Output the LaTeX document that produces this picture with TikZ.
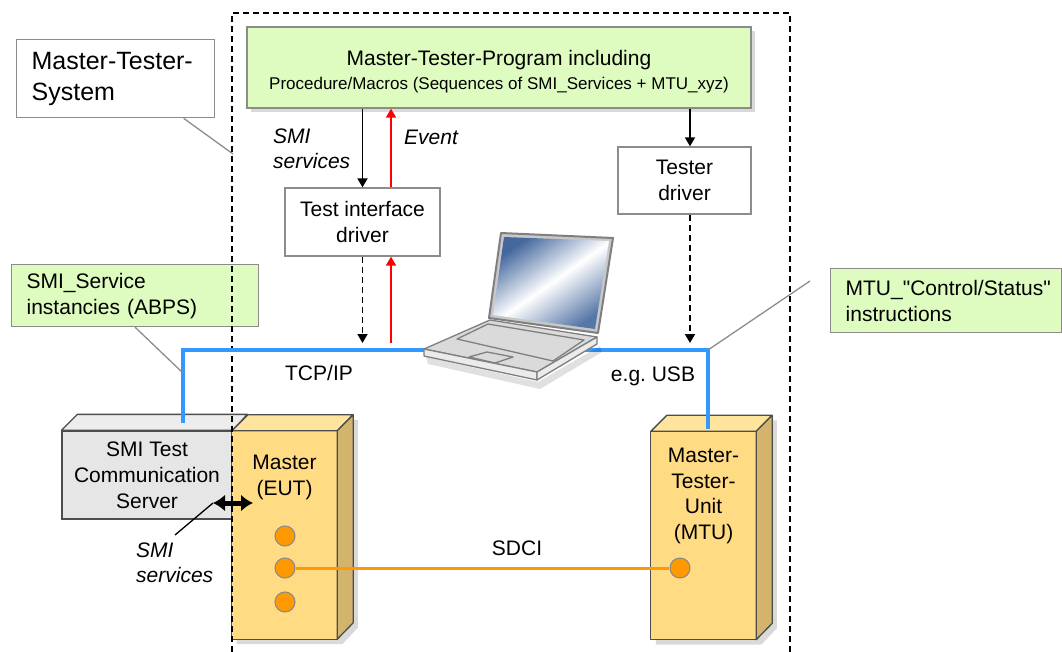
\documentclass[tikz,border=0pt]{standalone}
\usepackage{fontspec}
\setmainfont{Liberation Sans}
\usetikzlibrary{arrows.meta,shadows}

\definecolor{notegreen}{HTML}{DFFCC0}
\definecolor{boxgray}{HTML}{8C8C8C}
\definecolor{edgegray}{HTML}{4D4D4D}
\definecolor{busblue}{HTML}{3399FF}
\definecolor{sdciorange}{HTML}{FF9900}
\definecolor{eutfront}{HTML}{FFDC84}
\definecolor{euttop}{HTML}{FFE49E}
\definecolor{eutside}{HTML}{D2B46C}
\definecolor{srvfront}{HTML}{E6E6E6}
\definecolor{srvtop}{HTML}{EDEDED}
\definecolor{lapgray}{HTML}{7F7F7F}
\definecolor{lapbase}{HTML}{DADADA}
\definecolor{lapside}{HTML}{EBEBEB}
\definecolor{lapframe}{HTML}{C8C8C8}
\definecolor{scrblue}{HTML}{44689E}

\begin{document}
\begin{tikzpicture}[x=1pt, y=-1pt,
  font=\fontsize{21}{26}\selectfont,
  plainbox/.style={draw=boxgray, line width=1.3pt, fill=white, align=center, inner sep=0pt},
  notebox/.style={draw=boxgray, line width=1.3pt, fill=notegreen, align=left,
    anchor=north west, inner xsep=15pt, inner ysep=0pt},
  callout/.style={boxgray, line width=1.3pt},
  arr/.style={-{Triangle[length=9pt, width=10pt]}, line width=1.8pt},
  dasharr/.style={arr, dash pattern=on 6pt off 4pt},
  evarr/.style={arr, red},
  bus/.style={busblue, line width=3.3pt},
  sdci/.style={sdciorange, line width=3pt},
  port/.style={circle, draw=boxgray, fill=sdciorange, line width=1.1pt,
    minimum size=20pt, inner sep=0pt},
  cube/.style={minimum width=105pt, minimum height=208pt, inner sep=0pt},
  cubeedge/.style={draw=edgegray, line width=1.3pt, line join=round},
  cubeshadow/.style={drop shadow={shadow xshift=5pt, shadow yshift=-5pt, opacity=0.3}},
  smi/.style={inner sep=0pt, align=left, font=\fontsize{21}{25}\selectfont\itshape},
  sysframe/.style={line width=1.3pt, dash pattern=on 6pt off 4pt},
]
\useasboundingbox (0,0) rectangle (1062,652);
\clip (0,0) rectangle (1062,652);

% program on the PC and its two drivers
\node[plainbox, fill=notegreen, minimum width=504pt, minimum height=81pt,
  drop shadow={shadow xshift=4pt, shadow yshift=-4pt, opacity=0.3}] (prog) at (499,67.5) {};
\node[align=center] (progtxt) at ([yshift=-4pt]prog.center)
  {Master-Tester-Program including\\[-2pt]{\fontsize{17}{20}\selectfont Procedure/Macros (Sequences of SMI\_Services + MTU\_xyz)}};
\node[plainbox, minimum width=155pt, minimum height=68pt] (tid) at (362.5,222) {Test interface\\driver};
\node[plainbox, minimum width=133pt, minimum height=67pt] (tdrv) at (684.5,180.5) {Tester\\driver};

% notes
\node[notebox, fill=white, text width=168pt, minimum height=78pt,
  font=\fontsize{25}{31}\selectfont] (mts) at (16,39) {Master-Tester-\\System};
\node[notebox, text width=217pt, minimum height=62pt] (abps) at (11,264) {SMI\_Service\\instancies (ABPS)};
\node[notebox, text width=201pt, minimum height=64pt] (mtuins) at (830,268)
  {MTU\_\textquotedbl Control/Status\textquotedbl\\instructions};

% SMI test communication server
\node[plainbox, draw=edgegray, fill=srvfront, minimum width=170pt, minimum height=88pt] (srv) at (147,475)
  {SMI Test\\Communication\\Server};
\filldraw[cubeedge, fill=srvtop] (srv.north west) -- ++(16,-16) -- ++(170,0) -- (srv.north east) -- cycle;

% master (EUT)
\node[cube] (eut) at (284.5,535) {};
\path[cubeshadow, fill=eutfront] (eut.south west) -- (eut.north west) -- ++(16,-16) -- ++(105,0)
  -- ++(0,208) -- (eut.south east) -- cycle;
\filldraw[cubeedge, fill=eutfront] (eut.south west) rectangle (eut.north east);
\filldraw[cubeedge, fill=euttop] (eut.north west) -- ++(16,-16) -- ++(105,0) -- (eut.north east) -- cycle;
\filldraw[cubeedge, fill=eutside] (eut.north east) -- ++(16,-16) -- ++(0,208) -- (eut.south east) -- cycle;
\node[align=center] (eutlbl) at (284.5,477.5) {Master\\(EUT)};

% master-tester-unit
\node[cube] (mtu) at (703.5,535.5) {};
\path[cubeshadow, fill=eutfront] (mtu.south west) -- (mtu.north west) -- ++(16,-16) -- ++(105,0)
  -- ++(0,208) -- (mtu.south east) -- cycle;
\filldraw[cubeedge, fill=eutfront] (mtu.south west) rectangle (mtu.north east);
\filldraw[cubeedge, fill=euttop] (mtu.north west) -- ++(16,-16) -- ++(105,0) -- (mtu.north east) -- cycle;
\filldraw[cubeedge, fill=eutside] (mtu.north east) -- ++(16,-16) -- ++(0,208) -- (mtu.south east) -- cycle;
\node[align=center, font=\fontsize{21}{25.5}\selectfont] (mtulbl) at (703.5,496) {Master-\\Tester-\\Unit\\(MTU)};

% SDCI ports
\node[port] (ep1) at (285,536) {};
\node[port] (ep2) at (285,568) {};
\node[port] (ep3) at (285,602) {};
\node[port] (mp) at (680,568) {};
\draw[sdci] (ep2) -- (mp);
\node (sdcilbl) at (517,548) {SDCI};

% system border
\draw[sysframe] (232,652) -- (232,13) -- (790,13) -- (790,652);

% network
\coordinate (srvport) at (183,423);
\coordinate (mtuport) at (708,429);
\coordinate (busl) at (183,350);
\coordinate (busr) at (708,350);
\draw[bus] (srvport) -- (busl) -- (busr) -- (mtuport);
\node (tcplbl) at (319,373) {TCP/IP};
\node (usblbl) at (653,376) {e.g.\ USB};

% laptop
\begin{scope}[draw=lapgray, line width=1.3pt, line join=round]
  \fill[black, opacity=0.12] (426,357) -- (538,382) -- (600,346) -- (602,352) -- (540,389) -- (428,364) -- cycle;
  \filldraw[fill=lapbase] (424,349) -- (490,320) -- (597,337) -- (537,372) -- cycle;
  \filldraw[fill=lapside] (424,349) -- (537,372) -- (537,380) -- (424,356) -- cycle;
  \filldraw[fill=lapside] (537,372) -- (597,337) -- (597,344) -- (537,380) -- cycle;
  \draw (457,339) -- (488,324) -- (584,340) -- (553,361) -- cycle;
  \draw (469,357) -- (487,352) -- (513,357) -- (495,363) -- cycle;
  \filldraw[fill=lapframe, line width=2pt] (501,233) -- (613,238) -- (598,333) -- (489,318) -- cycle;
  \shade[top color=scrblue, bottom color=scrblue!90, middle color=white, shading angle=35]
    (504,237) -- (609,241) -- (595,329) -- (493,315) -- cycle;
\end{scope}

% service and event flow
\draw[arr] (prog.south -| tid.north) -- (tid.north);
\draw[evarr] ([xshift=28.5pt]tid.north) -- ([xshift=28.5pt]tid.north |- prog.south);
\coordinate (tcpdown) at (362.5,343);
\coordinate (tcpup) at (391,343);
\draw[dasharr] (tid.south) -- (tcpdown);
\draw[evarr] (tcpup) -- (tcpup |- tid.south);
\draw[arr] ([xshift=5.5pt]tdrv.north |- prog.south) -- ([xshift=5.5pt]tdrv.north);
\coordinate (usbdown) at (690,343);
\draw[dasharr] ([xshift=5.5pt]tdrv.south) -- (usbdown);
\node[smi, anchor=west] (smilbl) at (273,149) {SMI\\services};
\node[smi, anchor=west] (evlbl) at (404,137) {Event};

% SMI services between server and EUT
\coordinate (smil) at (213,503);
\coordinate (smir) at (253,503);
\coordinate (smitip) at (175,535);
\draw[{Latex[length=12pt,width=17pt]}-{Latex[length=12pt,width=17pt]}, line width=5pt] (smil) -- (smir);
\draw[line width=1.3pt] (smil) -- (smitip);
\node[smi, anchor=west] (smilbl2) at (136,563) {SMI\\services};

% callouts
\coordinate (mtsend) at (233,154);
\coordinate (abpsend) at (183,373);
\coordinate (mtuend) at (810,281);
\draw[callout] ([xshift=68pt]mts.south) -- (mtsend);
\draw[callout] (abps.south) -- (abpsend);
\draw[callout] (busr) -- (mtuend);
\end{tikzpicture}
\end{document}
